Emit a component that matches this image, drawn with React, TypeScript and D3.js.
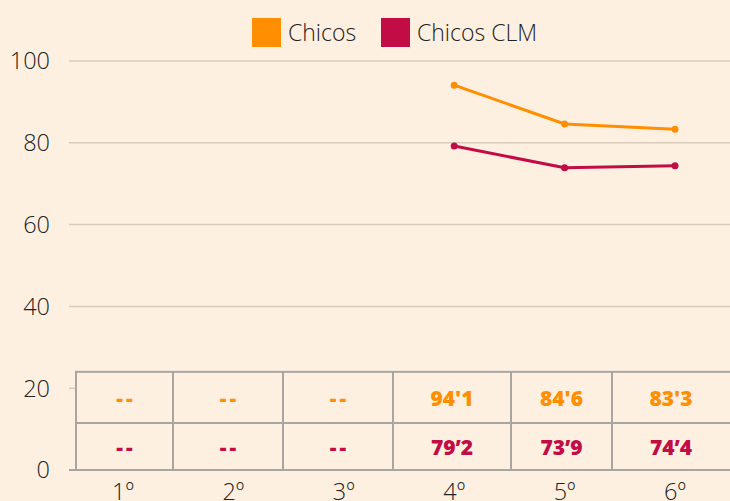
import React from 'react';
import * as d3 from 'd3';

// datos
const categories = ['1º', '2º', '3º', '4º', '5º', '6º'];
const chicos: (number | null)[] = [null, null, null, 94.1, 84.6, 83.3];
const chicosCLM: (number | null)[] = [null, null, null, 79.2, 73.9, 74.4];
const chicosLabels = ['--', '--', '--', "94'1", "84'6", "83'3"];
const chicosCLMLabels = ['--', '--', '--', '79’2', '73’9', '74’4'];
const yTicks = [0, 20, 40, 60, 80, 100];

const series = [
  { name: 'Chicos', values: chicos, labels: chicosLabels, color: '#FF8F00' },
  { name: 'Chicos CLM', values: chicosCLM, labels: chicosCLMLabels, color: '#C20C45' },
];

const W = 730;
const H = 501;
const BG = '#FEF0E1';
const FONT = '"Open Sans", sans-serif';

// bordes de columnas de la tabla (maquetación)
const tableEdges = [76, 173, 283, 393, 511, 612, 730];

export default function App() {
  const margin = { top: 61, right: 0, bottom: 31, left: 69 };

  const x = d3.scaleBand<string>()
    .domain(categories)
    .range([67.8, 730.2]);

  const y = d3.scaleLinear()
    .domain([0, 100])
    .range([H - margin.bottom, margin.top]);

  const line = d3.line<[string, number | null]>()
    .defined(d => d[1] != null)
    .x(d => (x(d[0]) as number) + x.bandwidth() / 2)
    .y(d => y(d[1] as number));

  const tableTop = y(24);
  const tableMid = y(11.5);
  const tableBottom = y(0);
  const rows = [
    { s: series[0], top: tableTop, bottom: tableMid },
    { s: series[1], top: tableMid, bottom: tableBottom },
  ];

  return (
    <div style={{ position: 'absolute', left: 0, top: 0, width: W, height: H, background: BG }}>
      <svg width={W} height={H} style={{ display: 'block' }}>
        <rect width={W} height={H} fill={BG} />

        {/* leyenda */}
        <g>
          <rect x={252} y={18} width={29} height={29} fill={series[0].color} />
          <text x={288} y={41} fontFamily={FONT} fontWeight={300} fontSize={23} fill="#222">Chicos</text>
          <rect x={381} y={18} width={29} height={29} fill={series[1].color} />
          <text x={417} y={41} fontFamily={FONT} fontWeight={300} fontSize={23} fill="#222">Chicos CLM</text>
        </g>

        {/* rejilla y eje Y */}
        {yTicks.map(t => (
          <g key={t}>
            <line
              x1={margin.left}
              x2={W}
              y1={y(t)}
              y2={y(t)}
              stroke={t === 0 ? '#A9A6A2' : '#D9CBBB'}
              strokeWidth={t === 0 ? 2 : 1.5}
            />
            <text
              x={50}
              y={y(t)}
              dy="0.36em"
              textAnchor="end"
              fontFamily={FONT}
              fontWeight={300}
              fontSize={23.5}
              fill="#222"
            >
              {t}
            </text>
          </g>
        ))}

        {/* lineas */}
        {series.map(s => {
          const pts = categories.map((c, i) => [c, s.values[i]] as [string, number | null]);
          return (
            <g key={s.name}>
              <path d={line(pts) || ''} fill="none" stroke={s.color} strokeWidth={3} />
              {pts.filter(p => p[1] != null).map(p => (
                <circle
                  key={p[0]}
                  cx={(x(p[0]) as number) + x.bandwidth() / 2}
                  cy={y(p[1] as number)}
                  r={3.5}
                  fill={s.color}
                />
              ))}
            </g>
          );
        })}

        {/* tabla de datos */}
        <g>
          <rect
            x={tableEdges[0]}
            y={tableTop}
            width={W - tableEdges[0] + 2}
            height={tableBottom - tableTop}
            fill={BG}
            stroke="#A9A6A2"
            strokeWidth={2}
          />
          <line x1={tableEdges[0]} x2={W} y1={tableMid} y2={tableMid} stroke="#A9A6A2" strokeWidth={2} />
          {tableEdges.slice(1, -1).map(e => (
            <line key={e} x1={e} x2={e} y1={tableTop} y2={tableBottom} stroke="#A9A6A2" strokeWidth={2} />
          ))}
          {rows.map(r =>
            r.s.labels.map((lab, i) => {
              const empty = lab === '--';
              return (
                <text
                  key={r.s.name + i}
                  x={(tableEdges[i] + tableEdges[i + 1]) / 2 + (empty ? 1.5 : 0)}
                  y={(r.top + r.bottom) / 2 + 1}
                  dy="0.35em"
                  textAnchor="middle"
                  fontFamily={FONT}
                  fontWeight={800}
                  fontSize={21}
                  letterSpacing={empty ? 3 : 0}
                  fill={r.s.color}
                >
                  {lab}
                </text>
              );
            })
          )}
          <line x1={margin.left} x2={W} y1={tableBottom} y2={tableBottom} stroke="#A9A6A2" strokeWidth={2} />
        </g>

        {/* eje X */}
        {categories.map(c => (
          <text
            key={c}
            x={(x(c) as number) + x.bandwidth() / 2}
            y={500}
            textAnchor="middle"
            fontFamily={FONT}
            fontWeight={300}
            fontSize={23.5}
            fill="#222"
          >
            {c}
          </text>
        ))}
      </svg>
    </div>
  );
}
